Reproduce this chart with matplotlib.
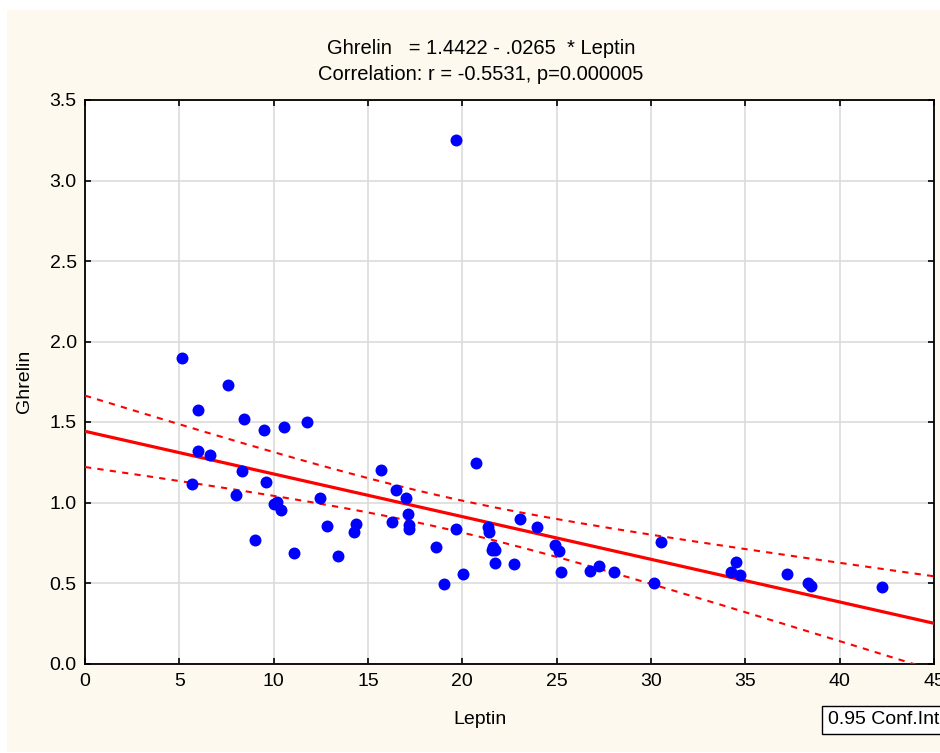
import numpy as np
import matplotlib
matplotlib.use('Agg')
import matplotlib.pyplot as plt
from matplotlib.patches import Rectangle

plt.rcParams['font.family'] = ['Liberation Sans', 'DejaVu Sans']

######################################################################
# data
leptin = [5.13, 6.00, 5.99, 5.66, 6.64, 7.60, 8.44, 8.32, 8.02, 9.03,
          9.49, 9.59, 10.03, 10.19, 10.39, 10.56, 11.08, 11.77, 12.45, 12.81,
          13.41, 14.35, 14.27, 15.69, 16.27, 16.50, 17.01, 17.14, 17.16, 17.19,
          18.60, 19.03, 19.66, 19.69, 20.02, 20.72, 21.34, 21.43, 21.57, 21.73,
          21.64, 21.73, 22.74, 23.07, 23.97, 24.90, 25.14, 25.24, 26.78, 27.23,
          28.04, 30.14, 30.54, 34.22, 34.49, 34.70, 37.22, 38.32, 38.48, 42.26]
ghrelin = [1.900, 1.572, 1.319, 1.118, 1.292, 1.730, 1.521, 1.197, 1.049, 0.767,
           1.450, 1.126, 0.989, 1.004, 0.956, 1.468, 0.686, 1.499, 1.026, 0.856,
           0.668, 0.869, 0.814, 1.199, 0.877, 1.078, 1.029, 0.927, 0.833, 0.862,
           0.725, 0.495, 3.253, 0.836, 0.555, 1.247, 0.848, 0.814, 0.707, 0.707,
           0.724, 0.624, 0.615, 0.895, 0.846, 0.738, 0.696, 0.568, 0.576, 0.607,
           0.568, 0.497, 0.755, 0.570, 0.628, 0.549, 0.557, 0.497, 0.484, 0.476]

intercept = 1.4422
slope = -0.0265
t_crit = 2.0017  # t(0.975, 58)

xticks = [0, 5, 10, 15, 20, 25, 30, 35, 40, 45]
yticks = [0.0, 0.5, 1.0, 1.5, 2.0, 2.5, 3.0, 3.5]

######################################################################
# regression line and 0.95 confidence band
x = np.array(leptin)
y = np.array(ghrelin)
n = len(x)
resid = y - (intercept + slope * x)
s = np.sqrt(np.sum(resid ** 2) / (n - 2))
xm = x.mean()
sxx = np.sum((x - xm) ** 2)

xl = np.linspace(0, 45, 200)
yl = intercept + slope * xl
half = t_crit * s * np.sqrt(1.0 / n + (xl - xm) ** 2 / sxx)

######################################################################
fig = plt.figure(figsize=(9.4, 7.53), dpi=100, facecolor='white')
fig.patches.append(Rectangle((7 / 940, 1 / 753), 933 / 940, 742 / 753,
                             transform=fig.transFigure, facecolor='#fef9ee',
                             edgecolor='none', zorder=-10))

ax = fig.add_axes([85 / 940, 1 - 663.5 / 753, 849 / 940, 563.5 / 753])
ax.set_facecolor('white')

ax.plot(xl, yl, color='#ff0000', lw=2.3, zorder=3)
ax.plot(xl, yl + half, color='#ff0000', lw=1.5, dashes=[3, 3], zorder=3)
ax.plot(xl, yl - half, color='#ff0000', lw=1.5, dashes=[3, 3], zorder=3)
ax.plot(x, y, 'o', color='#0000ff', markersize=8.6, markeredgewidth=0, zorder=4)

ax.set_xlim(0, 45)
ax.set_ylim(0, 3.5)
ax.set_xticks(xticks)
ax.set_yticks(yticks)
ax.set_xticklabels([str(v) for v in xticks])
ax.set_yticklabels(['%.1f' % v for v in yticks])
ax.grid(True, color='#dcdcdc', lw=1.2)
ax.set_axisbelow(True)
ax.tick_params(direction='in', length=4, width=1.2, top=True, right=True,
               labelsize=14, colors='black')
ax.tick_params(axis='x', pad=7)
ax.tick_params(axis='y', pad=6)
for sp in ax.spines.values():
    sp.set_color('black')
    sp.set_linewidth(1.3)

fig.text(480 / 940, 1 - 720 / 753, 'Leptin', ha='center', va='center',
         fontsize=14)
fig.text(25 / 940, 1 - 381 / 753, 'Ghrelin', ha='center', va='center',
         fontsize=14, rotation=90)

fig.text(481 / 940, 1 - 49 / 753, 'Ghrelin   = 1.4422 - .0265  * Leptin',
         ha='center', va='center', fontsize=14.5)
fig.text(481 / 940, 1 - 75 / 753, 'Correlation: r = -0.5531, p=0.000005',
         ha='center', va='center', fontsize=14.5)

fig.text(828 / 940, 1 - 720 / 753, '0.95 Conf.Int.', ha='left', va='center',
         fontsize=14,
         bbox=dict(boxstyle='square,pad=0.3', facecolor='white',
                   edgecolor='black', lw=1))

fig.savefig('out.png', dpi=100, facecolor=fig.get_facecolor())
